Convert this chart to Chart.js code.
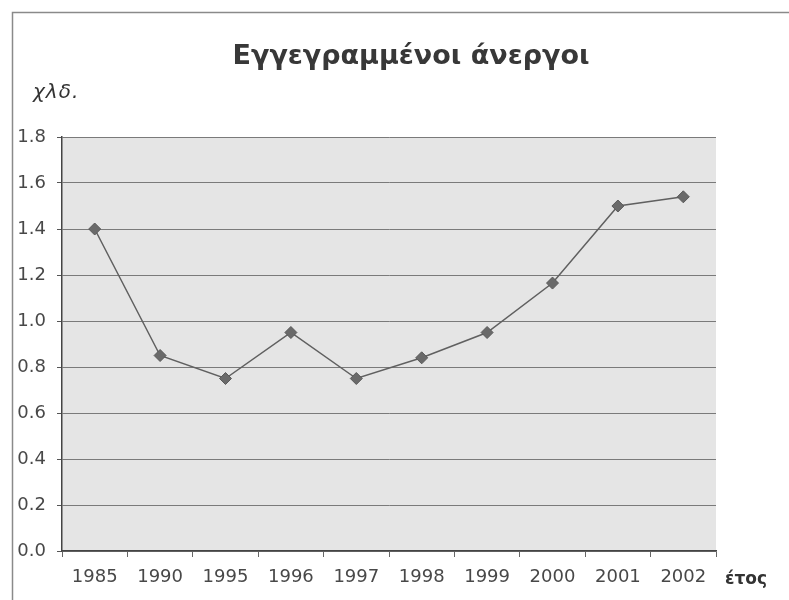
<!DOCTYPE html>
<html>
<head>
<meta charset="utf-8">
<script src="https://cdn.jsdelivr.net/npm/chart.js@4/dist/chart.umd.min.js"></script>
<style>
html,body{margin:0;padding:0;background:#fff;}
canvas{display:block;}
</style>
</head>
<body>
<canvas id="c" width="789" height="600"></canvas>
<script>
const categories = ['1985','1990','1995','1996','1997','1998','1999','2000','2001','2002'];
const values = [1.40, 0.85, 0.75, 0.95, 0.75, 0.84, 0.95, 1.165, 1.50, 1.54];
const titleText = 'Εγγεγραμμένοι άνεργοι';
const yUnitLabel = 'χλδ.';
const xAxisLabel = 'έτος';
const yMin = 0, yMax = 1.8, yStep = 0.2;

const FONT = '"DejaVu Sans", "Liberation Sans", Arial, sans-serif';

const decor = {
  id: 'decor',
  beforeDraw(chart) {
    const ctx = chart.ctx, a = chart.chartArea;
    ctx.save();
    ctx.fillStyle = '#fff';
    ctx.fillRect(0, 0, chart.width, chart.height);
    // page frame
    ctx.strokeStyle = '#8a8a8a';
    ctx.lineWidth = 1.5;
    ctx.beginPath();
    ctx.moveTo(12.5, chart.height);
    ctx.lineTo(12.5, 12.5);
    ctx.lineTo(chart.width, 12.5);
    ctx.stroke();
    // plot background
    ctx.fillStyle = '#e5e5e5';
    ctx.fillRect(a.left, a.top, a.right - a.left, a.bottom - a.top);
    ctx.restore();
  },
  afterDraw(chart) {
    const ctx = chart.ctx;
    ctx.save();
    // title
    ctx.fillStyle = '#383838';
    ctx.textAlign = 'center';
    ctx.textBaseline = 'alphabetic';
    let size = 26;
    ctx.font = 'bold ' + size + 'px ' + FONT;
    const w = ctx.measureText(titleText).width;
    size = size * 357 / w;
    ctx.font = 'bold ' + size.toFixed(2) + 'px ' + FONT;
    ctx.fillText(titleText, 411, 64);
    // unit label
    ctx.fillStyle = '#333';
    ctx.textAlign = 'left';
    ctx.textBaseline = 'middle';
    ctx.font = 'italic 20px ' + FONT;
    if ('letterSpacing' in ctx) ctx.letterSpacing = '1px';
    ctx.fillText(yUnitLabel, 33, 93);
    if ('letterSpacing' in ctx) ctx.letterSpacing = '0px';
    ctx.font = 'bold 17px ' + FONT;
    ctx.fillText(xAxisLabel, 725, 580);
    ctx.restore();
  }
};

new Chart(document.getElementById('c'), {
  type: 'line',
  data: {
    labels: categories,
    datasets: [{
      data: values,
      borderColor: '#606060',
      borderWidth: 1.5,
      pointStyle: 'rectRot',
      pointRadius: 6,
      pointBackgroundColor: '#6a6a6a',
      pointBorderColor: '#5a5a5a',
      pointBorderWidth: 1,
      tension: 0,
      fill: false
    }]
  },
  plugins: [decor],
  options: {
    responsive: false,
    animation: false,
    devicePixelRatio: 1,
    layout: { padding: { left: 0, right: 73, top: 137, bottom: 0 } },
    plugins: {
      legend: { display: false },
      tooltip: { enabled: false },
      title: { display: false }
    },
    scales: {
      x: {
        offset: true,
        afterFit(s) { s.height = 49; },
        grid: { display: true, offset: true, drawOnChartArea: false, drawTicks: true, tickLength: 6, color: '#666', tickWidth: 1 },
        border: { display: true, color: '#444', width: 1.5 },
        ticks: { color: '#484848', padding: 10, maxRotation: 0, autoSkip: false,
          font: { family: FONT, size: 18 } }
      },
      y: {
        min: yMin, max: yMax,
        afterFit(s) { s.width = 62; },
        grid: { color: '#7a7a7a', lineWidth: 1, drawTicks: true, tickLength: 5, tickColor: '#555' },
        border: { display: true, color: '#444', width: 1.5 },
        ticks: { stepSize: yStep, color: '#484848', padding: 11,
          callback: v => Number(v).toFixed(1),
          font: { family: FONT, size: 18 } }
      }
    }
  }
});
</script>
</body>
</html>
